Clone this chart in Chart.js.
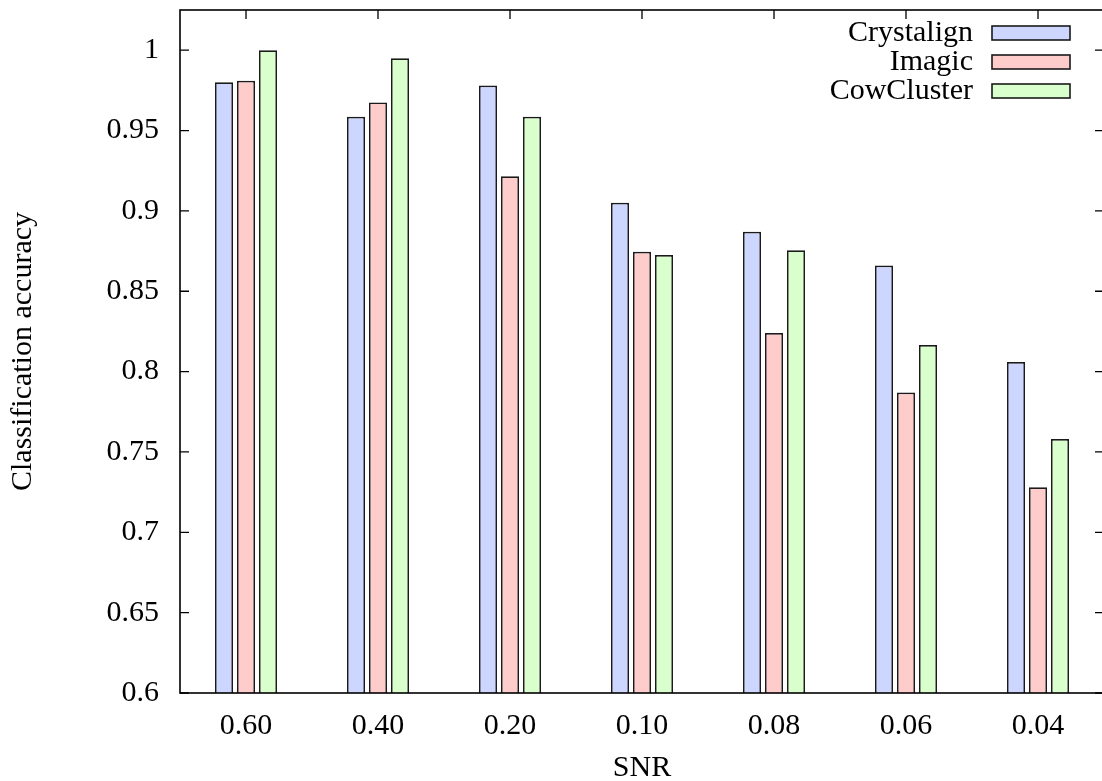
<!DOCTYPE html>
<html>
<head>
<meta charset="utf-8">
<script src="https://cdn.jsdelivr.net/npm/chart.js@4.4.0/dist/chart.umd.min.js"></script>
<style>
  html, body { margin: 0; padding: 0; background: #fff; overflow: hidden; }
  /* a bit wider/taller than the window: the right frame edge falls just off the picture */
  #wrap { width: 1106px; height: 792px; }
</style>
</head>
<body>
<div id="wrap"><canvas id="myChart"></canvas></div>
<script>
const categories = ['0.60', '0.40', '0.20', '0.10', '0.08', '0.06', '0.04'];
const crystalign = [0.980, 0.9585, 0.978, 0.905, 0.887, 0.866, 0.806];
const imagic = [0.981, 0.9675, 0.9215, 0.8745, 0.824, 0.787, 0.728];
const cowCluster = [1.000, 0.995, 0.9585, 0.8725, 0.8755, 0.8165, 0.758];
const yTickValues = [0.6, 0.65, 0.7, 0.75, 0.8, 0.85, 0.9, 0.95, 1];
const yTickLabels = ['0.6', '0.65', '0.7', '0.75', '0.8', '0.85', '0.9', '0.95', '1'];

const serif = '"Liberation Serif", "Times New Roman", serif';
Chart.defaults.color = '#000';
Chart.defaults.font.family = serif;

// gnuplot style frame with inward ticks on all four sides
const framePlugin = {
    id: 'frame',
    beforeDatasetsDraw(chart) {
        const { ctx, chartArea: a, scales: { x, y } } = chart;
        const len = 9;
        ctx.save();
        ctx.strokeStyle = '#000';
        ctx.lineWidth = 1.3;
        ctx.beginPath();
        yTickValues.forEach(v => {
            const py = y.getPixelForValue(v);
            ctx.moveTo(a.left, py); ctx.lineTo(a.left + len, py);
            ctx.moveTo(a.right, py); ctx.lineTo(a.right - len, py);
        });
        categories.forEach((c, i) => {
            const px = x.getPixelForTick(i);
            ctx.moveTo(px, a.top); ctx.lineTo(px, a.top + len);
            ctx.moveTo(px, a.bottom); ctx.lineTo(px, a.bottom - len);
        });
        ctx.stroke();
        ctx.restore();
    },
    afterDatasetsDraw(chart) {
        const { ctx, chartArea: a } = chart;
        ctx.save();
        ctx.strokeStyle = '#000';
        ctx.lineWidth = 1.6;
        ctx.strokeRect(a.left, a.top, a.right - a.left, a.bottom - a.top);

        // key in the top right corner, text right-aligned left of the sample box
        ctx.font = '30px ' + serif;
        ctx.textAlign = 'right';
        ctx.textBaseline = 'middle';
        ctx.lineWidth = 1.6;
        chart.data.datasets.forEach((ds, i) => {
            const yy = a.top + 23 + i * 29;
            ctx.fillStyle = '#000';
            ctx.fillText(ds.label, a.right - 131, yy);
            ctx.fillStyle = ds.backgroundColor;
            ctx.fillRect(a.right - 112, yy - 7, 78, 14);
            ctx.strokeStyle = '#1a1a1a';
            ctx.strokeRect(a.right - 112, yy - 7, 78, 14);
        });
        ctx.restore();
    }
};

const ctx = document.getElementById('myChart').getContext('2d');
const myChart = new Chart(ctx, {
    type: 'bar',
    data: {
        labels: categories,
        datasets: [{
            label: 'Crystalign',
            data: crystalign,
            backgroundColor: 'rgb(204, 214, 255)',
            borderColor: '#1a1a1a',
            borderWidth: 1.7
        }, {
            label: 'Imagic',
            data: imagic,
            backgroundColor: 'rgb(255, 204, 204)',
            borderColor: '#1a1a1a',
            borderWidth: 1.7
        }, {
            label: 'CowCluster',
            data: cowCluster,
            backgroundColor: 'rgb(217, 255, 204)',
            borderColor: '#1a1a1a',
            borderWidth: 1.7
        }]
    },
    options: {
        responsive: true,
        maintainAspectRatio: false,
        animation: false,
        devicePixelRatio: 1,
        categoryPercentage: 0.5,
        barPercentage: 0.82,
        layout: { padding: { top: 10, right: 2 } },
        plugins: {
            legend: { display: false },
            tooltip: { enabled: false }
        },
        scales: {
            x: {
                grid: { display: false },
                border: { display: false },
                ticks: { padding: 7, font: { size: 30 } },
                title: {
                    display: true,
                    text: 'SNR',
                    font: { size: 30, lineHeight: 1 },
                    padding: { top: 0, bottom: 9 }
                },
                afterFit: s => {
                    s.height = 99;
                    s.paddingLeft = 0;
                    s.paddingRight = 0;
                }
            },
            y: {
                min: 0.6,
                max: 1.025,
                grid: { display: false },
                border: { display: false },
                afterBuildTicks: s => { s.ticks = yTickValues.map(v => ({ value: v })); },
                ticks: {
                    padding: 13,
                    font: { size: 30 },
                    callback: v => yTickLabels[yTickValues.indexOf(v)]
                },
                title: {
                    display: true,
                    text: 'Classification accuracy',
                    font: { size: 30, lineHeight: 1 },
                    padding: { top: 8, bottom: 0 }
                },
                afterFit: s => {
                    s.width = 180;
                    s.paddingTop = 0;
                    s.paddingBottom = 0;
                }
            }
        }
    },
    plugins: [framePlugin]
});
</script>
</body>
</html>
